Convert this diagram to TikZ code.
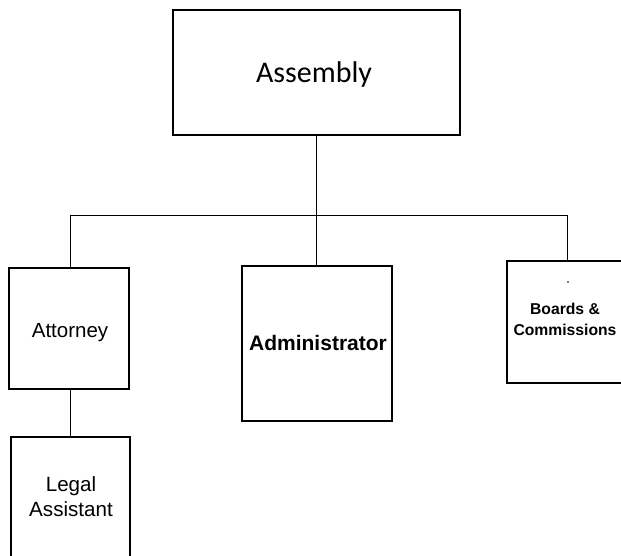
\documentclass[tikz,border=0pt]{standalone}
\usepackage{fontspec}
\setmainfont{Liberation Sans}
\newfontfamily\calibri{Carlito}
\begin{document}
\begin{tikzpicture}[x=1pt,y=-1pt,
  orgbox/.style={draw=black,line width=1.2pt,inner sep=0pt},
  conn/.style={draw=black,line width=1pt},
  lbl/.style={inner sep=0pt,text=black}]
\useasboundingbox (0,0) rectangle (621,556);
% boxes
\node[orgbox,minimum width=287pt,minimum height=125pt] (asm) at (316.5,72.5) {};
\node[orgbox,minimum width=120pt,minimum height=121pt] (att) at (69,328.5) {};
\node[orgbox,minimum width=119pt,minimum height=140pt] (leg) at (70.5,507) {};
\node[orgbox,minimum width=150pt,minimum height=155pt] (adm) at (317,343.5) {};
\node[orgbox,minimum width=118pt,minimum height=122pt] (brd) at (566,322) {};
% texts
\node[lbl,anchor=base,font=\calibri\fontsize{30}{36}\selectfont] (tasm) at (314,83) {Assembly};
\node[lbl,anchor=base,font=\fontsize{20.5}{25}\selectfont] (tatt) at (70,337) {Attorney};
\node[lbl,align=center,font=\fontsize{20.6}{25}\selectfont] (tleg) at (71,497) {Legal\\Assistant};
\node[lbl,anchor=base,font=\bfseries\fontsize{21}{25}\selectfont] (tadm) at (318,350) {Administrator};
\node[lbl,align=center,font=\bfseries\fontsize{15.7}{21}\selectfont] (tbrd) at (565,319) {Boards \&\\Commissions};
\fill[black] (568,282) circle (0.9pt);
% connectors
\coordinate (jmid) at (316.5,216);
\coordinate (jr) at (567,216);
\draw[conn] (asm.south) -- (jmid) -- (adm.north -| jmid);
\draw[conn] (att.north -| 70,0) -- (70,216) -- (jr) -- (jr |- brd.north);
\draw[conn] (att.south -| 70,0) -- (leg.north -| 70,0);
\end{tikzpicture}
\end{document}
